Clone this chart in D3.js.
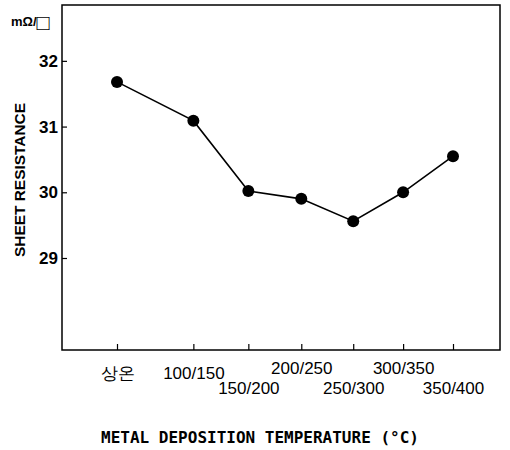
<!DOCTYPE html>
<html>
<head>
<meta charset="utf-8">
<script src="https://cdn.jsdelivr.net/npm/d3@7"></script>
<style>
  body { margin: 0; background: #fff; }
  svg { display: block; }
  .tick text { font-family: "Liberation Sans", Arial, sans-serif; }
</style>
</head>
<body>
<div id="chart"></div>
<script>
const WIDTH = 510;
const HEIGHT = 450;
const margin = { top: 5, right: 10, bottom: 100, left: 62 };
const innerW = WIDTH - margin.left - margin.right;
const innerH = HEIGHT - margin.top - margin.bottom;

// categories (deposition temperature), slot positions
const categories = ["상온", "100/150", "150/200", "200/250", "250/300", "300/350", "350/400"];
const slots = [0, 1.5, 2.58, 3.62, 4.64, 5.62, 6.6];
const resistance = [31.68, 31.09, 30.02, 29.9, 29.56, 30.0, 30.55];
const yTicks = [29, 30, 31, 32];

const svg = d3
  .select("#chart")
  .append("svg")
  .attr("width", WIDTH)
  .attr("height", HEIGHT);

const g = svg
  .append("g")
  .attr("transform", `translate(${margin.left}, ${margin.top})`);

const xScale = d3.scaleLinear().domain([0, 6.6]).range([55, 391]);
const yScale = d3.scaleLinear().domain([27.6, 32.85]).range([innerH, 0]);

// frame
g.append("rect")
  .attr("width", innerW)
  .attr("height", innerH)
  .attr("fill", "none")
  .attr("stroke", "#000")
  .attr("stroke-width", 1.5);

// x axis: inward ticks, labels staggered in two rows
const xAxis = d3
  .axisBottom(xScale)
  .tickValues(slots)
  .tickSize(-6)
  .tickSizeOuter(0)
  .tickFormat((d, i) => categories[i]);

const gx = g
  .append("g")
  .attr("transform", `translate(0, ${innerH})`)
  .call(xAxis);
gx.select(".domain").remove();
gx.selectAll(".tick line").attr("stroke-width", 1.2);
gx.selectAll(".tick text")
  .attr("font-size", 17)
  .attr("fill", "#000")
  .attr("y", (d, i) => (i === 0 || i === 1 ? 17 : i % 2 === 0 ? 32 : 12));

// y axis: inward ticks
const yAxis = d3
  .axisLeft(yScale)
  .tickValues(yTicks)
  .tickFormat(d3.format("d"))
  .tickSize(-5)
  .tickSizeOuter(0)
  .tickPadding(4);

const gy = g.append("g").call(yAxis);
gy.select(".domain").remove();
gy.selectAll(".tick line").attr("stroke-width", 1.2);
gy.selectAll(".tick text")
  .attr("font-size", 17)
  .attr("font-weight", "bold")
  .attr("fill", "#000");

// line + markers
const line = d3
  .line()
  .x((d, i) => xScale(slots[i]))
  .y(d => yScale(d));

g.append("path")
  .datum(resistance)
  .attr("d", line)
  .attr("fill", "none")
  .attr("stroke", "#000")
  .attr("stroke-width", 1.6);

g.selectAll("circle")
  .data(resistance)
  .enter()
  .append("circle")
  .attr("cx", (d, i) => xScale(slots[i]))
  .attr("cy", d => yScale(d))
  .attr("r", 6)
  .attr("fill", "#000");

// titles
svg.append("text")
  .attr("transform", "translate(25, 180) rotate(-90)")
  .attr("text-anchor", "middle")
  .attr("font-family", "'Liberation Sans', sans-serif")
  .attr("font-weight", "bold")
  .attr("font-size", 14)
  .attr("textLength", 154)
  .attr("lengthAdjust", "spacingAndGlyphs")
  .text("SHEET RESISTANCE");

svg.append("text")
  .attr("x", 260)
  .attr("y", 443)
  .attr("text-anchor", "middle")
  .attr("font-family", "'DejaVu Sans Mono', monospace")
  .attr("font-weight", "bold")
  .attr("font-size", 16)
  .text("METAL DEPOSITION TEMPERATURE (\u00B0C)");

const unit = svg.append("text")
  .attr("x", 11)
  .attr("y", 26)
  .attr("font-family", "'Liberation Sans', sans-serif")
  .attr("font-weight", "bold")
  .attr("font-size", 13);
unit.append("tspan").text("mΩ/");
unit.append("tspan").attr("font-size", 22).attr("font-weight", "normal").attr("dy", 4).text("□");
</script>
</body>
</html>
